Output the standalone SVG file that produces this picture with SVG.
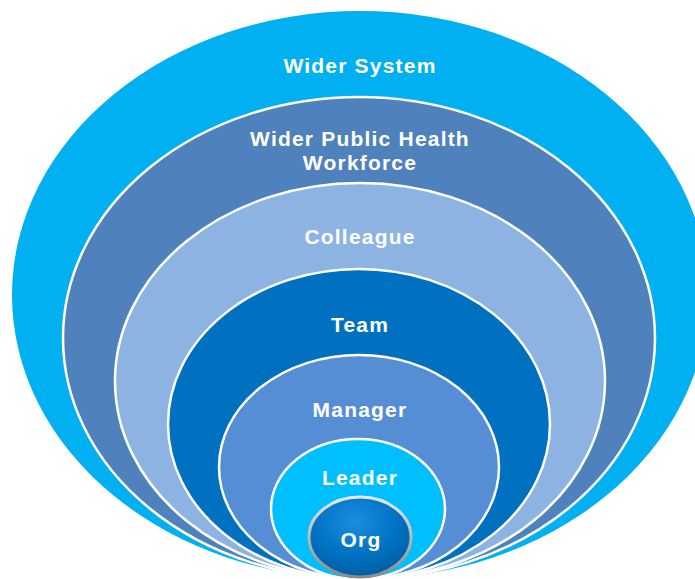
<svg xmlns="http://www.w3.org/2000/svg" width="695" height="579" viewBox="0 0 695 579">
<defs>
<radialGradient id="orgGrad" cx="45%" cy="30%" r="75%">
<stop offset="0" stop-color="#1a8ee0"/>
<stop offset="0.6" stop-color="#0070C0"/>
<stop offset="1" stop-color="#005a9e"/>
</radialGradient>
<linearGradient id="orgRim" x1="0" y1="0" x2="0" y2="1">
<stop offset="0" stop-color="#e8e8e8"/>
<stop offset="1" stop-color="#8a8a8a"/>
</linearGradient>
</defs>
<style>
.ring{stroke:#ffffff;stroke-width:2.5}
.lbl{font-family:"Liberation Sans",Arial,sans-serif;font-weight:bold;font-size:21px;letter-spacing:1.2px;fill:#ffffff;text-anchor:middle}
</style>
<rect width="695" height="579" fill="#ffffff"/>
<g id="wider-system">
<ellipse cx="360" cy="295" rx="348" ry="284" fill="#00B0F0"/>
<text class="lbl" x="360" y="73">Wider System</text>
</g>
<g id="wider-public-health-workforce">
<ellipse class="ring" cx="359" cy="338" rx="296" ry="241" fill="#4F81BD"/>
<text class="lbl" x="360" y="146">Wider Public Health</text>
<text class="lbl" x="360" y="170">Workforce</text>
</g>
<g id="colleague">
<ellipse class="ring" cx="360" cy="381" rx="245" ry="198" fill="#8DB3E2"/>
<text class="lbl" x="360" y="244">Colleague</text>
</g>
<g id="team">
<ellipse class="ring" cx="359" cy="424" rx="191" ry="155" fill="#0070C0"/>
<text class="lbl" x="360" y="332">Team</text>
</g>
<g id="manager">
<ellipse class="ring" cx="359" cy="467" rx="140" ry="112" fill="#558ED5"/>
<text class="lbl" x="360" y="417">Manager</text>
</g>
<g id="leader">
<ellipse class="ring" cx="358" cy="509" rx="87" ry="70" fill="#00BFFF"/>
<text class="lbl" x="360" y="485">Leader</text>
</g>
<g id="org">
<ellipse cx="360" cy="537" rx="51" ry="40" fill="url(#orgGrad)" stroke="url(#orgRim)" stroke-width="3"/>
<text class="lbl" x="361" y="547">Org</text>
</g>
<g id="connectors"/>
</svg>
